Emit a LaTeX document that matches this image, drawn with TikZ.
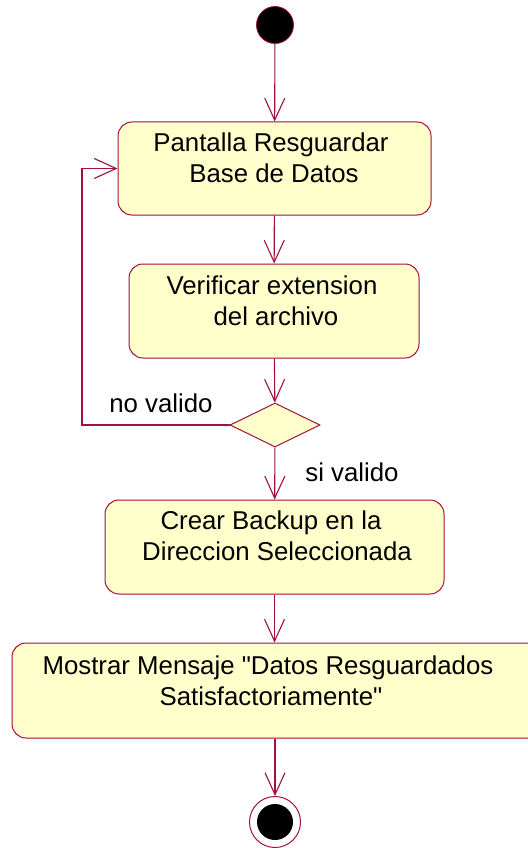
\documentclass[tikz,border=0pt]{standalone}
\usepackage{fontspec}
\setmainfont{Liberation Sans}
\usetikzlibrary{arrows.meta,shapes.geometric}
\definecolor{umlline}{RGB}{160,16,64}
\definecolor{umlfill}{RGB}{255,255,204}
\tikzset{
  act/.style={draw=umlline,fill=umlfill,line width=1pt,rounded corners=14pt,inner sep=0pt},
  txt/.style={font=\fontsize{25.8}{31}\selectfont,align=center,inner sep=0pt,text=black},
  flow/.style={draw=umlline,line width=1.1pt,-{Straight Barb[length=22pt,width=20pt,line width=1.1pt]}},
}
\begin{document}
\begin{tikzpicture}[x=1pt,y=-1pt]
\useasboundingbox (0,0) rectangle (527,848);
\fill[white] (0,0) rectangle (527,848);
% start
\node[circle,fill=black,draw=umlline,line width=0.8pt,minimum size=37pt,inner sep=0pt] (start) at (275,25) {};
% boxes
\node[act,minimum width=313pt,minimum height=93pt] (b1) at (274.5,168.5) {};
\node[txt] (t1) at (271,158) {Pantalla Resguardar\\\hspace*{6pt}Base de Datos};
\node[act,minimum width=290pt,minimum height=94pt] (b2) at (274,311) {};
\node[txt] (t2) at (272,301) {Verificar extension\\\hspace*{8pt}del archivo};
\node[diamond,draw=umlline,fill=umlfill,line width=1pt,minimum width=90pt,minimum height=44pt,inner sep=0pt,aspect=2] (d) at (275,425) {};
\node[act,minimum width=339pt,minimum height=94pt] (b3) at (274.5,547) {};
\node[txt] (t3) at (277,536) {Crear Backup en la\hspace*{12pt}\\Direccion Seleccionada};
\node[act,minimum width=530pt,minimum height=95pt] (b4) at (277,690.5) {};
\node[txt] (t4) at (268,681) {Mostrar Mensaje \textquotedbl Datos Resguardados\\\hspace*{6pt}Satisfactoriamente\textquotedbl};
% end
\node[circle,draw=umlline,fill=white,line width=1pt,minimum size=51pt,inner sep=0pt] (end) at (275,822) {};
\node[circle,fill=black,minimum size=36pt,inner sep=0pt] (endin) at (275,822) {};
% labels
\node[txt,anchor=center] (lno) at (161,403) {no valido};
\node[txt,anchor=center] (lsi) at (352,472) {si valido};
% flows
\draw[flow] (start) -- (b1);
\draw[flow] (b1) -- (b2);
\draw[flow] (b2) -- (d);
\draw[flow] (d) -- (b3);
\draw[flow] (b3) -- (b4.north -| b3.south);
\draw[flow] (b4.south -| end) -- (end);
\coordinate (lc) at (82,425);
\draw[flow] (d.west) -- (lc) |- (b1.west);
\end{tikzpicture}
\end{document}
